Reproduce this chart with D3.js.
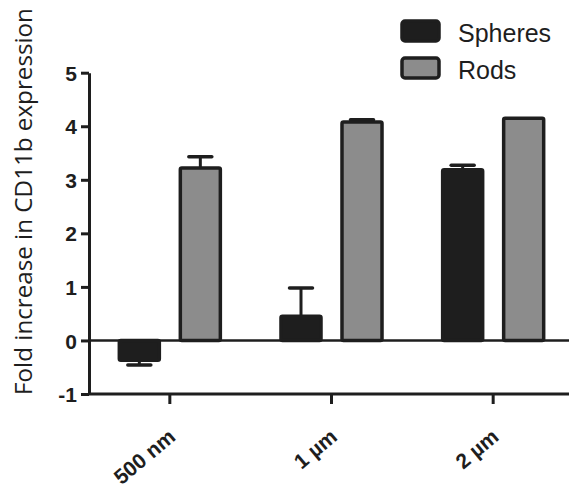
<!DOCTYPE html>
<html>
<head>
<meta charset="utf-8">
<script src="https://cdn.jsdelivr.net/npm/d3@7"></script>
<style>
  html, body { margin: 0; padding: 0; background: #ffffff; }
  svg { display: block; }
</style>
</head>
<body>
<svg id="chart" width="569" height="489"></svg>
<script>
// Particle size groups and the two particle shapes
const categories = ["500 nm", "1 \u00b5m", "2 \u00b5m"];
const series = ["Spheres", "Rods"];
// Mean fold increase per size, and one-sided error (SEM)
const spheresValues = [-0.37, 0.45, 3.19];
const spheresErrors = [0.09, 0.53, 0.08];
const rodsValues = [3.22, 4.08, 4.15];
const rodsErrors = [0.21, 0.04, 0.0];
const yTicks = [-1, 0, 1, 2, 3, 4, 5];
const yTickLabels = ["-1", "0", "1", "2", "3", "4", "5"];

const ink = "#1e1e1e";
const fills = { Spheres: "#1e1e1e", Rods: "#8c8c8c" };

const rows = [];
categories.forEach((c, i) => {
  rows.push({ cat: c, s: "Spheres", v: spheresValues[i], e: spheresErrors[i] });
  rows.push({ cat: c, s: "Rods", v: rodsValues[i], e: rodsErrors[i] });
});

const svg = d3.select("#chart");
const plotLeft = 89, plotRight = 574, plotTop = 72.7, plotBottom = 394;

const y = d3.scaleLinear().domain([-1, 5]).range([plotBottom, plotTop]);
const x = d3.scaleBand().domain(categories).range([plotLeft, plotRight]).padding(0);
const x1 = d3.scaleBand().domain(series).range([0, x.bandwidth()])
  .paddingInner(0.344).paddingOuter(0.497);

// Zero baseline
svg.append("line")
  .attr("x1", plotLeft).attr("x2", 569)
  .attr("y1", y(0)).attr("y2", y(0))
  .attr("stroke", ink).attr("stroke-width", 2.5);

// Error bars (drawn away from zero)
const capW = 23;
const eb = svg.append("g").attr("class", "errors");
rows.filter(d => d.e > 0).forEach(d => {
  const cx = x(d.cat) + x1(d.s) + x1.bandwidth() / 2;
  const end = d.v >= 0 ? d.v + d.e : d.v - d.e;
  eb.append("line")
    .attr("x1", cx).attr("x2", cx)
    .attr("y1", y(d.v)).attr("y2", y(end))
    .attr("stroke", ink).attr("stroke-width", 3);
  eb.append("line")
    .attr("x1", cx - capW / 2).attr("x2", cx + capW / 2)
    .attr("y1", y(end)).attr("y2", y(end))
    .attr("stroke", ink).attr("stroke-width", 3.5)
    .attr("stroke-linecap", "round");
});

// Bars
svg.append("g").attr("class", "bars")
  .selectAll("rect").data(rows).join("rect")
  .attr("x", d => x(d.cat) + x1(d.s))
  .attr("width", x1.bandwidth())
  .attr("y", d => y(Math.max(0, d.v)))
  .attr("height", d => Math.abs(y(d.v) - y(0)))
  .attr("rx", 1.5)
  .attr("fill", d => fills[d.s])
  .attr("stroke", ink)
  .attr("stroke-width", 3.5)
  .attr("stroke-linejoin", "round");

// Y axis
const yAxis = svg.append("g")
  .attr("transform", `translate(${plotLeft},0)`)
  .call(d3.axisLeft(y).tickValues(yTicks)
    .tickFormat((d, i) => yTickLabels[i]).tickSize(8).tickSizeOuter(0));
yAxis.select(".domain").attr("stroke", ink).attr("stroke-width", 3);
yAxis.selectAll(".tick line").attr("stroke", ink).attr("stroke-width", 3);
yAxis.selectAll(".tick text")
  .attr("x", -12)
  .attr("dy", "0.36em")
  .attr("fill", ink)
  .style("font-family", "'Liberation Sans', Arial, sans-serif")
  .style("font-weight", "bold")
  .style("font-size", "21px");

// X axis
const xAxis = svg.append("g")
  .attr("transform", `translate(0,${plotBottom})`)
  .call(d3.axisBottom(x).tickSize(10).tickSizeOuter(0));
xAxis.select(".domain").attr("stroke", ink).attr("stroke-width", 3)
  .attr("d", `M${plotLeft},0H${plotRight}`);
xAxis.selectAll(".tick line").attr("stroke", ink).attr("stroke-width", 3);
xAxis.selectAll(".tick text")
  .attr("fill", ink)
  .attr("text-anchor", "end")
  .attr("dy", 0)
  .attr("y", 0).attr("x", 0)
  .attr("transform", "translate(7,45) rotate(-40)")
  .style("font-family", "'Liberation Sans', Arial, sans-serif")
  .style("font-weight", "bold")
  .style("font-size", "21px");

// Y axis title
svg.append("text")
  .attr("transform", "translate(31.5,201.5) rotate(-90)")
  .attr("text-anchor", "middle")
  .attr("fill", ink)
  .style("font-family", "'Open Sans', sans-serif")
  .style("font-size", "24.2px")
  .text("Fold increase in CD11b expression");

// Legend
const legend = svg.append("g").attr("transform", "translate(402,21)");
series.forEach((s, i) => {
  const g = legend.append("g").attr("transform", `translate(0,${i * 37})`);
  g.append("rect")
    .attr("width", 37).attr("height", 20).attr("rx", 3)
    .attr("fill", fills[s]).attr("stroke", ink).attr("stroke-width", 3.5);
  g.append("text")
    .attr("x", 56).attr("y", 20.5)
    .attr("fill", ink)
    .style("font-family", "'Liberation Sans', Arial, sans-serif")
    .style("font-size", "25px")
    .text(s);
});
</script>
</body>
</html>
